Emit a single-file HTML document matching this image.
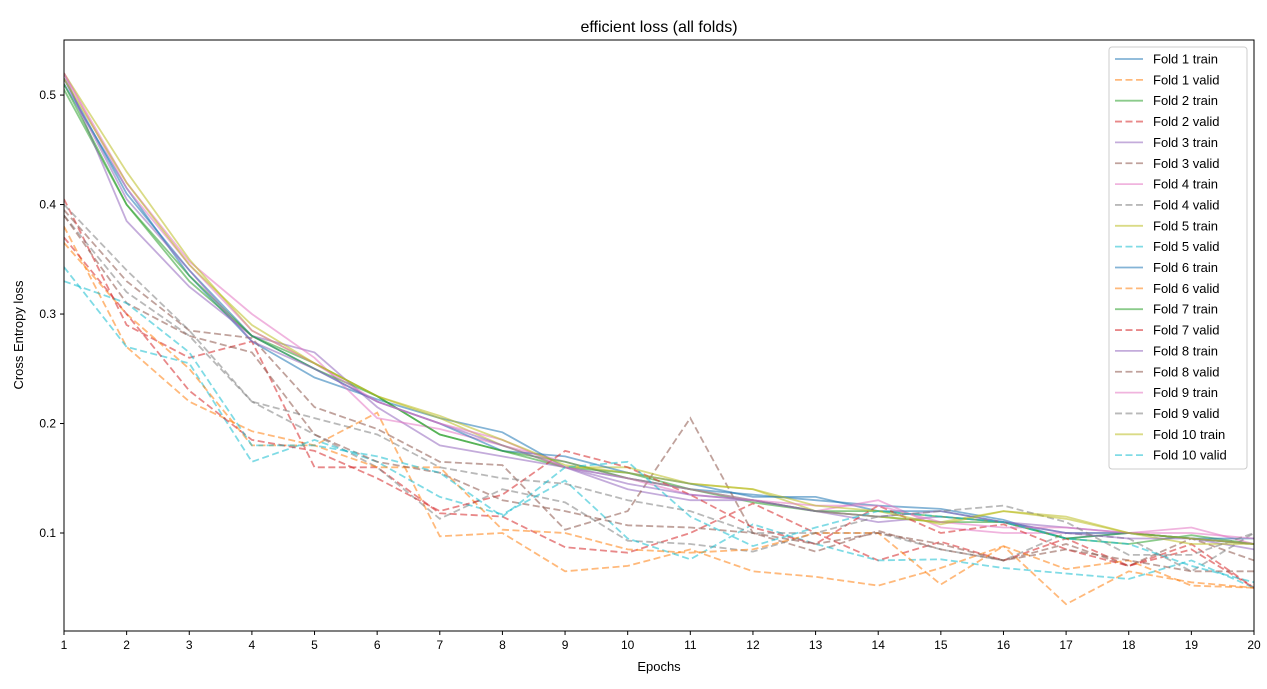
<!DOCTYPE html>
<html><head><meta charset="utf-8"><style>
body{margin:0;background:#fff;}
svg{display:block;font-family:"Liberation Sans","DejaVu Sans",sans-serif;}
</style></head><body>
<svg id="chart" width="1267" height="689" xmlns="http://www.w3.org/2000/svg">
<rect width="1267" height="689" fill="#fff"/>
<text x="659" y="32" font-size="16" text-anchor="middle">efficient loss (all folds)</text>
<text x="659" y="671" font-size="13" text-anchor="middle">Epochs</text>
<text transform="translate(23,335) rotate(-90)" font-size="13" text-anchor="middle">Cross Entropy loss</text>
<g id="lines"></g>
<g id="axes"></g>
<rect x="64" y="40" width="1190" height="591" fill="none" stroke="#000" stroke-width="1"/>
<g id="legend"></g>
</svg>
<script>
const epochs=[1,2,3,4,5,6,7,8,9,10,11,12,13,14,15,16,17,18,19,20];
const yTicks=[0.1,0.2,0.3,0.4,0.5];
const seriesNames=["Fold 1 train","Fold 1 valid","Fold 2 train","Fold 2 valid","Fold 3 train","Fold 3 valid","Fold 4 train","Fold 4 valid","Fold 5 train","Fold 5 valid","Fold 6 train","Fold 6 valid","Fold 7 train","Fold 7 valid","Fold 8 train","Fold 8 valid","Fold 9 train","Fold 9 valid","Fold 10 train","Fold 10 valid"];
const f1t=[0.51,0.415,0.335,0.275,0.242,0.222,0.205,0.192,0.16,0.15,0.14,0.135,0.13,0.125,0.122,0.112,0.095,0.1,0.095,0.09];
const f1v=[0.38,0.27,0.22,0.193,0.18,0.21,0.097,0.1,0.065,0.07,0.085,0.065,0.06,0.052,0.068,0.088,0.035,0.065,0.055,0.05];
const f2t=[0.505,0.4,0.33,0.28,0.255,0.225,0.19,0.175,0.16,0.155,0.14,0.128,0.12,0.115,0.11,0.11,0.095,0.09,0.098,0.09];
const f2v=[0.405,0.29,0.26,0.275,0.16,0.16,0.118,0.115,0.087,0.082,0.1,0.127,0.1,0.075,0.092,0.075,0.095,0.07,0.09,0.05];
const f3t=[0.52,0.385,0.325,0.28,0.265,0.215,0.18,0.17,0.16,0.14,0.13,0.13,0.12,0.11,0.115,0.11,0.105,0.1,0.095,0.085];
const f3v=[0.395,0.33,0.285,0.278,0.215,0.195,0.165,0.162,0.103,0.12,0.205,0.1,0.083,0.102,0.085,0.075,0.09,0.07,0.095,0.075];
const f4t=[0.52,0.42,0.348,0.3,0.26,0.205,0.195,0.18,0.165,0.15,0.135,0.13,0.12,0.13,0.105,0.1,0.1,0.1,0.105,0.09];
const f4v=[0.39,0.32,0.28,0.22,0.19,0.16,0.113,0.14,0.128,0.093,0.09,0.083,0.1,0.1,0.085,0.075,0.1,0.095,0.065,0.1];
const f5t=[0.52,0.43,0.35,0.285,0.255,0.225,0.205,0.18,0.16,0.16,0.145,0.14,0.12,0.115,0.11,0.12,0.115,0.1,0.09,0.09];
const f5v=[0.343,0.27,0.255,0.165,0.185,0.165,0.133,0.117,0.148,0.095,0.076,0.108,0.09,0.075,0.076,0.068,0.063,0.058,0.075,0.05];
const f6t=[0.515,0.41,0.34,0.28,0.25,0.22,0.2,0.175,0.17,0.155,0.145,0.133,0.133,0.12,0.12,0.11,0.1,0.1,0.095,0.095];
const f6v=[0.365,0.3,0.25,0.18,0.18,0.16,0.16,0.103,0.1,0.085,0.082,0.085,0.1,0.1,0.053,0.088,0.067,0.075,0.052,0.05];
const f7t=[0.51,0.4,0.335,0.28,0.25,0.225,0.19,0.175,0.165,0.15,0.14,0.13,0.12,0.12,0.115,0.11,0.095,0.1,0.095,0.09];
const f7v=[0.37,0.3,0.23,0.185,0.175,0.15,0.12,0.135,0.175,0.16,0.135,0.105,0.09,0.125,0.1,0.108,0.085,0.07,0.085,0.05];
const f8t=[0.515,0.405,0.34,0.275,0.25,0.22,0.2,0.18,0.16,0.145,0.135,0.13,0.12,0.115,0.12,0.11,0.1,0.095,0.095,0.09];
const f8v=[0.39,0.31,0.28,0.265,0.19,0.165,0.155,0.13,0.12,0.107,0.105,0.1,0.09,0.1,0.09,0.075,0.085,0.075,0.065,0.065];
const f9t=[0.52,0.415,0.345,0.285,0.255,0.22,0.2,0.185,0.16,0.15,0.14,0.13,0.125,0.125,0.11,0.105,0.105,0.1,0.1,0.095];
const f9v=[0.4,0.34,0.285,0.22,0.205,0.19,0.16,0.15,0.145,0.13,0.12,0.1,0.1,0.115,0.12,0.125,0.11,0.08,0.08,0.1];
const f10t=[0.515,0.42,0.345,0.29,0.255,0.225,0.207,0.185,0.162,0.155,0.145,0.14,0.125,0.12,0.108,0.12,0.113,0.1,0.095,0.09];
const f10v=[0.33,0.31,0.265,0.18,0.18,0.17,0.155,0.115,0.16,0.165,0.115,0.088,0.105,0.12,0.115,0.11,0.095,0.09,0.07,0.055];
const allSeries=[f1t,f1v,f2t,f2v,f3t,f3v,f4t,f4v,f5t,f5v,f6t,f6v,f7t,f7v,f8t,f8v,f9t,f9v,f10t,f10v];

const colors=["#1f77b4","#ff7f0e","#2ca02c","#d62728","#9467bd","#8c564b","#e377c2","#7f7f7f","#bcbd22","#17becf"];
const NS="http://www.w3.org/2000/svg";
const X0=64,X1=1254,Y0=40,Y1=631,YMIN=0.0105,YMAX=0.5503;
const xs=e=>X0+(e-1)*(X1-X0)/19;
const ys=v=>Y1-(v-YMIN)*(Y1-Y0)/(YMAX-YMIN);
const mk=(t,a,p)=>{const el=document.createElementNS(NS,t);for(const k in a)el.setAttribute(k,a[k]);p.appendChild(el);return el;};
const axes=document.getElementById('axes');
epochs.forEach(e=>{
  const t=mk('line',{x1:xs(e),x2:xs(e),y1:Y1,y2:Y1+4,stroke:'#000'},axes);
  
  
  const l=mk('text',{x:xs(e),y:Y1+18,'font-size':12,'text-anchor':'middle'},axes);
  l.textContent=e;
  
  
});
yTicks.forEach(v=>{
  const t=mk('line',{x1:X0-4,x2:X0,y1:ys(v),y2:ys(v),stroke:'#000'},axes);
  
  
  const l=mk('text',{x:X0-8,y:ys(v)+4,'font-size':12,'text-anchor':'end'},axes);
  l.textContent=v.toFixed(1);
  
  
});
const lines=document.getElementById('lines');
const clip=mk('clipPath',{id:'pc'},lines);mk('rect',{x:X0,y:Y0,width:X1-X0,height:Y1-Y0},clip);
allSeries.forEach((s,i)=>{
  const pts=s.map((v,j)=>xs(epochs[j]).toFixed(1)+','+ys(v).toFixed(1)).join(' ');
  const a={points:pts,fill:'none',stroke:colors[i%10],'stroke-width':1.8,'stroke-opacity':0.55,'clip-path':'url(#pc)'};
  if(i%2===1)a['stroke-dasharray']='7,3.5';
  const p=mk('polyline',a,lines);
  
  
});
const lg=document.getElementById('legend');
const box=mk('rect',{x:1109,y:47,width:138,height:422,rx:3,fill:'#fff','fill-opacity':0.8,stroke:'#ccc'},lg);


seriesNames.forEach((n,i)=>{
  const y=59+i*20.85;
  const a={x1:1115,x2:1143,y1:y,y2:y,stroke:colors[i%10],'stroke-width':1.8,'stroke-opacity':0.55};
  if(i%2===1)a['stroke-dasharray']='7,3.5';
  const ln=mk('line',a,lg);
  
  
  const t=mk('text',{x:1153,y:y+4.5,'font-size':13},lg);
  t.textContent=n;
  
  
});
</script>
</body></html>
